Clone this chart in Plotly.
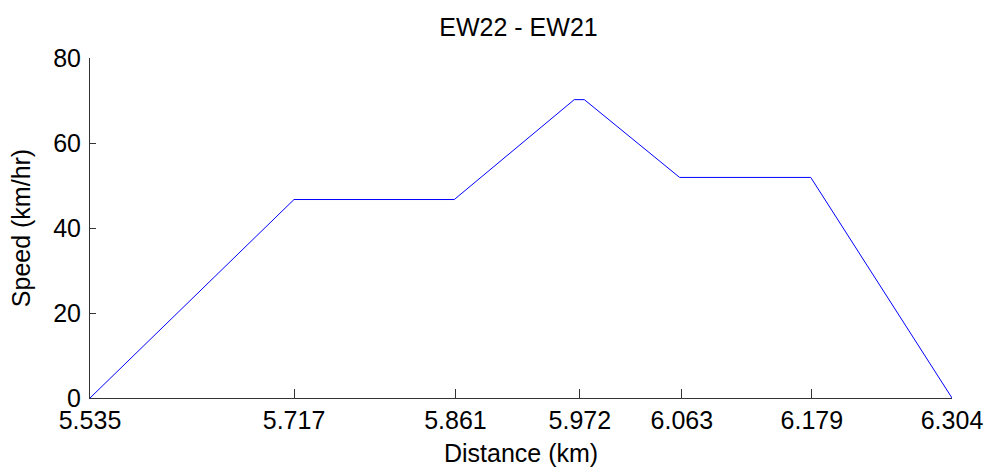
import plotly.graph_objects as go

distance_km = [5.535, 5.717, 5.860, 5.967, 5.976, 6.061, 6.178, 6.304]
speed_kmh = [0, 46.7, 46.7, 70.2, 70.2, 51.9, 51.9, 0]

x_tick_vals = [5.535, 5.717, 5.861, 5.972, 6.063, 6.179, 6.304]
x_tick_text = ["5.535", "5.717", "5.861", "5.972", "6.063", "6.179", "6.304"]
y_tick_vals = [0, 20, 40, 60, 80]

font = "Liberation Sans, Arial, sans-serif"

W, H = 986, 467

fig = go.Figure()
fig.add_trace(go.Scatter(x=distance_km, y=speed_kmh, mode="lines",
                         line=dict(color="rgb(0,0,255)", width=1),
                         showlegend=False, hoverinfo="x+y"))

fig.update_layout(
    width=W, height=H,
    margin=dict(l=90, r=34, t=58, b=69),
    paper_bgcolor="white", plot_bgcolor="white",
    font=dict(family=font, size=25, color="black"),
    title=dict(text="EW22 - EW21", x=518.5 / W, xanchor="center", xref="container",
               y=1 - 27 / H, yref="container", yanchor="middle",
               font=dict(family=font, size=25, color="black")),
    xaxis=dict(range=[5.535 - 1e-6, 6.304 + 1e-6], tickvals=x_tick_vals, ticktext=x_tick_text,
               ticks="inside", ticklen=9, tickcolor="#333", tickwidth=1,
               showline=True, linecolor="#333", linewidth=1, showgrid=False, zeroline=False,
               automargin=False, ticklabeloverflow="allow",
               tickfont=dict(size=25)),
    yaxis=dict(range=[0, 80], tickvals=y_tick_vals,
               ticks="inside", ticklen=6, tickcolor="#333", tickwidth=1,
               showline=True, linecolor="#333", linewidth=1, showgrid=False, zeroline=False,
               automargin=False, ticklabelstandoff=3,
               title=dict(text="Speed (km/hr)", font=dict(size=25)),
               tickfont=dict(size=25)),
    annotations=[dict(text="Distance (km)", xref="paper", yref="paper", x=0.5, y=0,
                      xanchor="center", yanchor="middle", yshift=-55, showarrow=False,
                      font=dict(family=font, size=25, color="black"))],
)

fig.write_html("out.html", config={"displayModeBar": False},
               post_script="document.body.style.margin='0';document.body.style.overflow='hidden';")
